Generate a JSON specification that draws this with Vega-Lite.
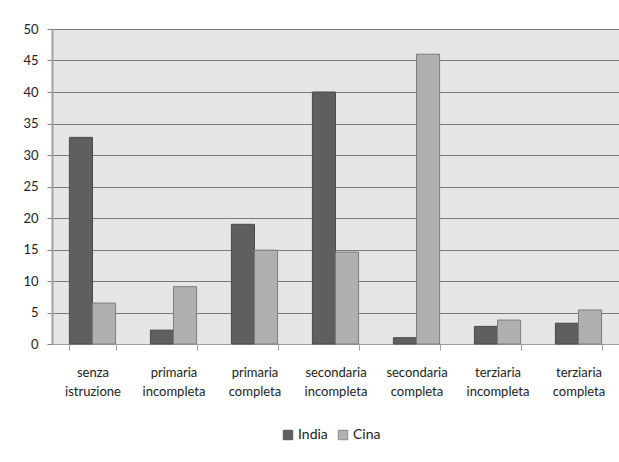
{
  "$schema": "https://vega.github.io/schema/vega-lite/v6.json",
  "width": 567,
  "height": 315,
  "autosize": {"type": "none"},
  "padding": {"left": 52, "top": 29, "right": 0, "bottom": 118},
  "background": "#ffffff",
  "config": {
    "view": {"fill": "#e6e6e6", "stroke": null},
    "font": "Lato",
    "axis": {"labelFont": "Lato", "labelColor": "#222222", "labelFontSize": 13}
  },
  "data": {
    "values": [
      {"livello": "senza|istruzione", "ordine": 1, "paese": "India", "valore": 32.8},
      {"livello": "senza|istruzione", "ordine": 1, "paese": "Cina", "valore": 6.5},
      {"livello": "primaria|incompleta", "ordine": 2, "paese": "India", "valore": 2.2},
      {"livello": "primaria|incompleta", "ordine": 2, "paese": "Cina", "valore": 9.1},
      {"livello": "primaria|completa", "ordine": 3, "paese": "India", "valore": 19.0},
      {"livello": "primaria|completa", "ordine": 3, "paese": "Cina", "valore": 14.9},
      {"livello": "secondaria|incompleta", "ordine": 4, "paese": "India", "valore": 40.0},
      {"livello": "secondaria|incompleta", "ordine": 4, "paese": "Cina", "valore": 14.6},
      {"livello": "secondaria|completa", "ordine": 5, "paese": "India", "valore": 1.0},
      {"livello": "secondaria|completa", "ordine": 5, "paese": "Cina", "valore": 46.0},
      {"livello": "terziaria|incompleta", "ordine": 6, "paese": "India", "valore": 2.8},
      {"livello": "terziaria|incompleta", "ordine": 6, "paese": "Cina", "valore": 3.8},
      {"livello": "terziaria|completa", "ordine": 7, "paese": "India", "valore": 3.3},
      {"livello": "terziaria|completa", "ordine": 7, "paese": "Cina", "valore": 5.4}
    ]
  },
  "mark": {"type": "bar", "strokeWidth": 1},
  "encoding": {
    "x": {
      "field": "livello",
      "type": "nominal",
      "sort": {"field": "ordine"},
      "scale": {"paddingInner": 0.43, "paddingOuter": 0.215},
      "axis": {
        "title": null,
        "labelAngle": 0,
        "labelExpr": "split(datum.label, '|')",
        "labelLineHeight": 19,
        "labelPadding": 16,
        "labelBaseline": "top",
        "tickBand": "extent",
        "tickSize": 6,
        "tickColor": "#a0a0a0",
        "domainColor": "#a0a0a0",
        "grid": false
      }
    },
    "xOffset": {"field": "paese", "type": "nominal", "sort": ["India", "Cina"]},
    "y": {
      "field": "valore",
      "type": "quantitative",
      "scale": {"domain": [0, 50], "nice": false},
      "axis": {
        "title": null,
        "values": [0, 5, 10, 15, 20, 25, 30, 35, 40, 45, 50],
        "tickSize": 5,
        "tickColor": "#808080",
        "domainColor": "#a0a0a0",
        "domainWidth": 2,
        "gridColor": "#7a7a7a",
        "gridOpacity": 1,
        "labelPadding": 9
      }
    },
    "color": {
      "field": "paese",
      "type": "nominal",
      "sort": ["India", "Cina"],
      "scale": {"domain": ["India", "Cina"], "range": ["#5f5f5f", "#b0b0b0"]},
      "legend": {
        "title": null,
        "orient": "none",
        "direction": "horizontal",
        "legendX": 229,
        "legendY": 399,
        "symbolType": "square",
        "symbolSize": 90,
        "symbolStrokeColor": "#555555",
        "symbolStrokeWidth": 0.8,
        "labelFontSize": 14,
        "labelColor": "#222222",
        "labelOffset": 3,
        "columnPadding": 8
      }
    },
    "stroke": {
      "field": "paese",
      "type": "nominal",
      "scale": {"domain": ["India", "Cina"], "range": ["#4a4a4a", "#7c7c7c"]},
      "legend": null
    }
  }
}
